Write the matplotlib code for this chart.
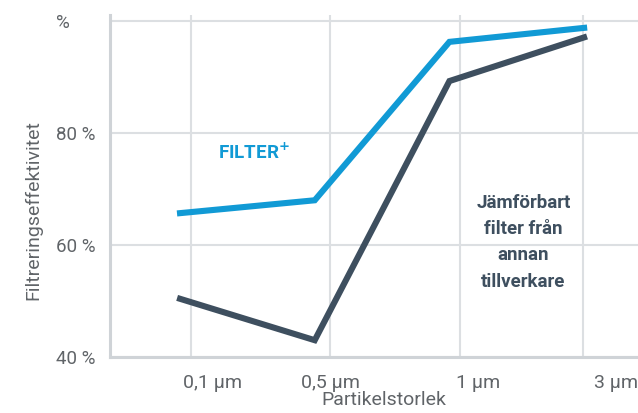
import matplotlib
matplotlib.use("Agg")
import matplotlib.pyplot as plt

plt.rcParams['font.family'] = ['Roboto', 'DejaVu Sans']

# data
x_pos = [0, 1, 2, 3]
filter_plus = [65.7, 68.0, 96.3, 98.8]
competitor = [50.4, 43.0, 89.3, 97.1]
grid_x = [0.08, 1.11, 2.08, 2.99]
label_x = [0.24, 1.12, 2.21, 3.24]
size_labels = ['0,1 µm', '0,5 µm', '1 µm', '3 µm']
y_ticks = [40, 60, 80, 100]
y_labels = ['40 %', '60 %', '80 %', '%']

blue = '#119ad5'
dark = '#3e4f5f'
gridc = '#dcdfe2'
textc = '#606468'

fig = plt.figure(figsize=(6.38, 4.13), dpi=100)
ax = fig.add_axes([110/638, 1-357/413, 1-110/638, (357-15)/413])

ax.plot(x_pos, filter_plus, color=blue, lw=4.4, solid_joinstyle='miter', zorder=3)
ax.plot(x_pos, competitor, color=dark, lw=4.4, solid_joinstyle='miter', zorder=3)

ax.set_xlim(-0.52, 3.40)
ax.set_ylim(40, 101.1)

# gridlines on minor ticks, labels on major ticks
ax.set_xticks(grid_x, minor=True)
ax.set_xticks(label_x)
ax.set_xticklabels(size_labels)
ax.set_yticks(y_ticks)
ax.set_yticklabels(y_labels, ha='left')
ax.grid(True, which='minor', axis='x', color=gridc, lw=1.5)
ax.grid(True, which='major', axis='y', color=gridc, lw=1.5)
ax.tick_params(which='both', length=0)
ax.tick_params(axis='x', pad=12, labelsize=14, labelcolor=textc)
ax.tick_params(axis='y', pad=39, labelsize=13.5, labelcolor=textc)

for s in ['top', 'right']:
    ax.spines[s].set_visible(False)
for s in ['left', 'bottom']:
    ax.spines[s].set_color('#cfd3d7')
    ax.spines[s].set_linewidth(2.2)

ax.set_xlabel('Partikelstorlek', fontsize=14, color=textc)
ax.xaxis.set_label_coords((384-110)/528, -0.098)
ax.set_ylabel('Filtreringseffektivitet', fontsize=14, color=textc)
ax.yaxis.set_label_coords(-0.129, 0.43)

ax.text(0.28, 76.4, 'FILTER$^{\\mathbf{+}}$', color=blue, fontsize=13.5,
        fontweight='bold', ha='left', va='center')
ax.text(2.55, 60.5, 'Jämförbart\nfilter från\nannan\ntillverkare', color=dark,
        fontsize=13.5, fontweight='bold', ha='center', va='center',
        linespacing=1.6)

fig.savefig('out.png', dpi=100)
